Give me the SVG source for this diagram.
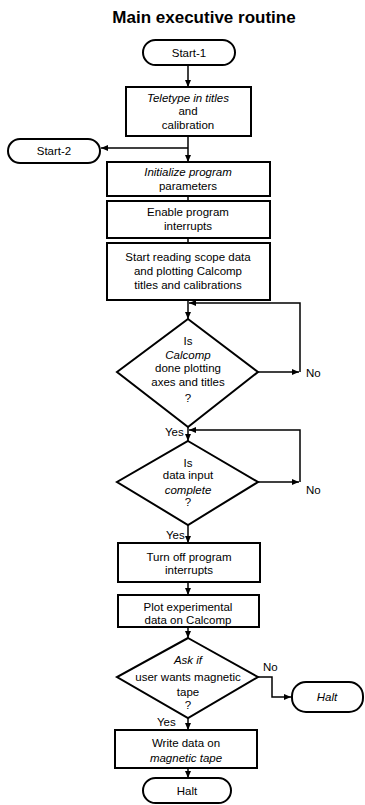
<svg xmlns="http://www.w3.org/2000/svg" width="365" height="805" viewBox="0 0 365 805">
<style>
.s{fill:#fff;stroke:#000;stroke-width:2}
.c{fill:none;stroke:#000;stroke-width:1.5}
text{font-family:"Liberation Sans",Arial,sans-serif;font-size:11.5px;fill:#000;text-anchor:middle}
.i{font-style:italic}
.t{font-size:17px;font-weight:bold}
.l{text-anchor:start}
</style>
<defs>
<marker id="a" markerUnits="userSpaceOnUse" markerWidth="8" markerHeight="8" refX="7" refY="4" orient="auto">
<path d="M0,1 L7,4 L0,7 Z" fill="#000"/>
</marker>
</defs>
<rect width="365" height="805" fill="#fff"/>
<text class="t" x="204" y="23">Main executive routine</text>

<g id="connectors">
<line class="c" x1="188" y1="65" x2="188" y2="87" marker-end="url(#a)"/>
<line class="c" x1="188" y1="136" x2="188" y2="162" marker-end="url(#a)"/>
<line class="c" x1="188" y1="148" x2="101" y2="148" marker-end="url(#a)"/>
<line class="c" x1="188" y1="196" x2="188" y2="201"/>
<line class="c" x1="188" y1="238" x2="188" y2="243"/>
<line class="c" x1="188" y1="300" x2="188" y2="319" marker-end="url(#a)"/>
<line class="c" x1="258" y1="372" x2="299" y2="372" marker-end="url(#a)"/>
<path class="c" d="M300,372 V303 H189" marker-end="url(#a)"/>
<line class="c" x1="188" y1="427" x2="188" y2="441" marker-end="url(#a)"/>
<line class="c" x1="258" y1="482" x2="299" y2="482" marker-end="url(#a)"/>
<path class="c" d="M300,482 V430 H189" marker-end="url(#a)"/>
<line class="c" x1="188" y1="525" x2="188" y2="543" marker-end="url(#a)"/>
<line class="c" x1="188" y1="582" x2="188" y2="595" marker-end="url(#a)"/>
<line class="c" x1="188" y1="627" x2="188" y2="638" marker-end="url(#a)"/>
<path class="c" d="M258,677 H272 V697 H291" marker-end="url(#a)"/>
<line class="c" x1="188" y1="718" x2="188" y2="730" marker-end="url(#a)"/>
<line class="c" x1="188" y1="768" x2="188" y2="778" marker-end="url(#a)"/>
<text class="l" x="306" y="377">No</text>
<text class="l" x="306" y="494">No</text>
<text class="l" x="165" y="436">Yes</text>
<text class="l" x="166" y="539">Yes</text>
<text class="l" x="263" y="671">No</text>
<text class="l" x="157" y="726">Yes</text>
</g>

<g id="start1">
<rect class="s" x="143" y="40" width="92" height="25" rx="12.5"/>
<text x="189" y="57">Start-1</text>
</g>
<g id="teletype">
<rect class="s" x="126" y="87" width="125" height="49"/>
<text class="i" x="188" y="102">Teletype in titles</text>
<text x="188" y="115">and</text>
<text x="188" y="129">calibration</text>
</g>
<g id="start2">
<rect class="s" x="8" y="139" width="92" height="24" rx="12"/>
<text x="54" y="155">Start-2</text>
</g>
<g id="init">
<rect class="s" x="107" y="162" width="163" height="34"/>
<text class="i" x="188" y="176">Initialize program</text>
<text x="188" y="190">parameters</text>
</g>
<g id="enable">
<rect class="s" x="107" y="201" width="163" height="37"/>
<text x="188" y="216">Enable program</text>
<text x="188" y="230">interrupts</text>
</g>
<g id="startread">
<rect class="s" x="107" y="243" width="163" height="57"/>
<text x="188" y="261">Start reading scope data</text>
<text x="188" y="275">and plotting Calcomp</text>
<text x="188" y="289">titles and calibrations</text>
</g>
<g id="calcompdone">
<polygon class="s" points="188,319 258,372 188,427 117,372"/>
<text x="188" y="345">Is</text>
<text class="i" x="188" y="359">Calcomp</text>
<text x="188" y="372">done plotting</text>
<text x="188" y="386">axes and titles</text>
<text x="188" y="402">?</text>
</g>
<g id="datainput">
<polygon class="s" points="188,441 258,482 188,525 117,482"/>
<text x="188" y="467">Is</text>
<text x="188" y="479">data input</text>
<text class="i" x="188" y="494">complete</text>
<text x="188" y="506">?</text>
</g>
<g id="turnoff">
<rect class="s" x="118" y="543" width="142" height="39"/>
<text x="189" y="561">Turn off program</text>
<text x="189" y="574">interrupts</text>
</g>
<g id="plot">
<rect class="s" x="118" y="595" width="141" height="32"/>
<text x="188" y="611">Plot experimental</text>
<text x="188" y="624">data on Calcomp</text>
</g>
<g id="ask">
<polygon class="s" points="188,638 258,677 188,718 117,677"/>
<text class="i" x="188" y="664">Ask if</text>
<text x="188" y="681">user wants magnetic</text>
<text x="188" y="696">tape</text>
<text x="188" y="709">?</text>
</g>
<g id="halt1">
<rect class="s" x="292" y="682" width="71" height="30" rx="14"/>
<text class="i" x="327" y="701">Halt</text>
</g>
<g id="write">
<rect class="s" x="115" y="730" width="142" height="38"/>
<text x="186" y="747">Write data on</text>
<text class="i" x="186" y="762">magnetic tape</text>
</g>
<g id="halt2">
<rect class="s" x="143" y="778" width="88" height="25" rx="12.5"/>
<text x="187" y="795">Halt</text>
</g>
</svg>
